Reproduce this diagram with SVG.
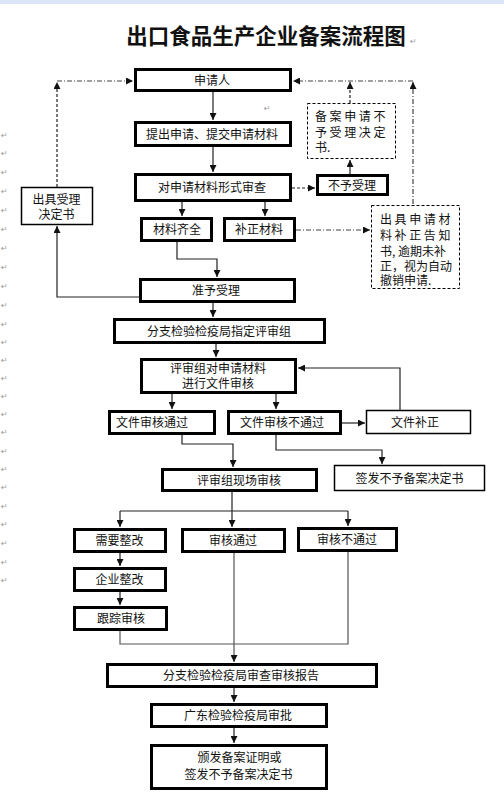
<svg xmlns="http://www.w3.org/2000/svg" width="504" height="801" viewBox="0 0 504 801">
<style>
text{font-family:"Noto Sans CJK SC","Noto Sans",sans-serif;font-size:12px;fill:#111}
.c{text-anchor:middle}
.b{fill:#fff;stroke:#000;stroke-width:3}
.t{fill:#fff;stroke:#000;stroke-width:1.5}
.d{fill:#fff;stroke:#000;stroke-width:1;stroke-dasharray:3 2}
.ln{fill:none;stroke:#222;stroke-width:1.2}
.da{fill:none;stroke:#222;stroke-width:1.2;stroke-dasharray:3 2}
.dd{fill:none;stroke:#444;stroke-width:1.2;stroke-dasharray:5 2 1 2}
.sp{letter-spacing:2.6px}
.pm{font-family:"DejaVu Sans",sans-serif;font-size:8px;fill:#999}
</style>
<defs>
<marker id="a" markerWidth="7" markerHeight="7" refX="7" refY="3.5" orient="auto" markerUnits="userSpaceOnUse">
<path d="M0,0 L7,3.5 L0,7 z" fill="#111"/>
</marker>
</defs>
<rect x="0" y="0" width="504" height="4" fill="#dbe5f6"/>
<g id="title"><text x="266" y="44" class="c" style="font-size:21.5px;font-weight:bold">出口食品生产企业备案流程图</text><text x="410" y="44" class="pm">↵</text></g>
<g id="marks">
<text x="1" y="138" class="pm">↵</text><text x="1" y="156" class="pm">↵</text><text x="1" y="175" class="pm">↵</text><text x="1" y="194" class="pm">↵</text><text x="1" y="213" class="pm">↵</text><text x="1" y="232" class="pm">↵</text><text x="1" y="251" class="pm">↵</text><text x="1" y="270" class="pm">↵</text><text x="1" y="289" class="pm">↵</text><text x="1" y="308" class="pm">↵</text><text x="1" y="327" class="pm">↵</text><text x="1" y="345" class="pm">↵</text><text x="1" y="363" class="pm">↵</text><text x="1" y="381" class="pm">↵</text><text x="1" y="399" class="pm">↵</text><text x="1" y="417" class="pm">↵</text><text x="1" y="435" class="pm">↵</text><text x="1" y="454" class="pm">↵</text><text x="1" y="472" class="pm">↵</text><text x="1" y="490" class="pm">↵</text><text x="1" y="509" class="pm">↵</text><text x="1" y="527" class="pm">↵</text><text x="1" y="546" class="pm">↵</text><text x="1" y="565" class="pm">↵</text><text x="1" y="583" class="pm">↵</text>
<text x="264" y="111" class="pm">↵</text>
</g>
<g id="connectors">
<line class="ln" x1="213" y1="92" x2="213" y2="120" marker-end="url(#a)"/>
<line class="ln" x1="213" y1="147" x2="213" y2="172" marker-end="url(#a)"/>
<line class="da" x1="292" y1="188" x2="315" y2="188" marker-end="url(#a)"/>
<line class="ln" x1="350" y1="174" x2="350" y2="160" marker-end="url(#a)"/>
<line class="da" x1="350" y1="103" x2="350" y2="82" marker-end="url(#a)"/>
<line class="dd" x1="413" y1="204" x2="413" y2="82" marker-end="url(#a)"/>
<line class="dd" x1="413" y1="81" x2="293" y2="81" marker-end="url(#a)"/>
<line class="da" x1="57" y1="187" x2="57" y2="82" marker-end="url(#a)"/>
<line class="dd" x1="57" y1="81" x2="133" y2="81" marker-end="url(#a)"/>
<line class="ln" x1="182" y1="202" x2="182" y2="216" marker-end="url(#a)"/>
<line class="ln" x1="265" y1="202" x2="265" y2="216" marker-end="url(#a)"/>
<line class="dd" x1="296" y1="230" x2="370" y2="230" marker-end="url(#a)"/>
<polyline class="ln" points="177,242 177,259 217,259 217,277" marker-end="url(#a)"/>
<polyline class="ln" points="139,297 57,297 57,226" marker-end="url(#a)"/>
<line class="ln" x1="213" y1="303" x2="213" y2="317" marker-end="url(#a)"/>
<line class="ln" x1="216" y1="344" x2="216" y2="357" marker-end="url(#a)"/>
<line class="ln" x1="172" y1="394" x2="172" y2="409" marker-end="url(#a)"/>
<line class="ln" x1="276" y1="394" x2="276" y2="409" marker-end="url(#a)"/>
<line class="ln" x1="342" y1="423" x2="365" y2="423" marker-end="url(#a)"/>
<polyline class="ln" points="400,410 400,368 298,368" marker-end="url(#a)"/>
<polyline class="ln" points="182,435 182,444 233,444 233,467" marker-end="url(#a)"/>
<polyline class="ln" points="276,435 276,450 382,450 382,464" marker-end="url(#a)"/>
<line class="ln" x1="232" y1="492" x2="232" y2="511"/>
<line class="ln" x1="120" y1="511" x2="348" y2="511"/>
<line class="ln" x1="120" y1="511" x2="120" y2="527" marker-end="url(#a)"/>
<line class="ln" x1="232" y1="511" x2="232" y2="527" marker-end="url(#a)"/>
<line class="ln" x1="348" y1="511" x2="348" y2="526" marker-end="url(#a)"/>
<line class="ln" x1="120" y1="553" x2="120" y2="566" marker-end="url(#a)"/>
<line class="ln" x1="120" y1="592" x2="120" y2="605" marker-end="url(#a)"/>
<polyline class="ln" points="120,631 120,644 348,644 348,552" style="stroke:#555"/>
<line class="ln" x1="234" y1="553" x2="234" y2="662" marker-end="url(#a)" style="stroke:#555"/>
<line class="ln" x1="234" y1="688" x2="234" y2="702" marker-end="url(#a)"/>
<line class="ln" x1="234" y1="728" x2="234" y2="743" marker-end="url(#a)"/>
</g>
<g id="n1"><rect class="b" x="135.5" y="69.5" width="155" height="21"/><text x="212" y="85" class="c">申请人</text></g>
<g id="n2"><rect class="b" x="135.5" y="122.5" width="155" height="23"/><text x="212" y="138.5" class="c">提出申请、提交申请材料</text></g>
<g id="n3"><rect class="b" x="135.5" y="174.5" width="155" height="26"/><text x="212" y="192" class="c">对申请材料形式审查</text></g>
<g id="n4"><rect class="b" x="317.5" y="175.5" width="70" height="19"/><text x="352" y="189.5" class="c">不予受理</text></g>
<g id="n5"><rect class="d" x="307.5" y="103.5" width="88" height="55"/><text x="315" y="120.5" class="sp">备案申请不</text><text x="315" y="136.5" class="sp">予受理决定</text><text x="315" y="151.5">书.</text></g>
<g id="n6"><rect class="t" x="21.5" y="187.5" width="71" height="37"/><text x="56.5" y="203.5" class="c">出具受理</text><text x="56.5" y="218.5" class="c">决定书</text></g>
<g id="n7"><rect class="b" x="141.5" y="218.5" width="70" height="22"/><text x="177" y="234" class="c">材料齐全</text></g>
<g id="n8"><rect class="b" x="224.5" y="218.5" width="70" height="22"/><text x="259" y="234" class="c">补正材料</text></g>
<g id="n9"><rect class="d" x="371.5" y="205.5" width="88" height="83"/><text x="380" y="223.5" class="sp">出具申请材</text><text x="380" y="239.5" class="sp">料补正告知</text><text x="380" y="255.5">书, 逾期未补</text><text x="380" y="270.5">正，视为自动</text><text x="380" y="284.5">撤销申请.</text></g>
<g id="n10"><rect class="b" x="140.5" y="279.5" width="154" height="22"/><text x="216" y="295" class="c">准予受理</text></g>
<g id="n11"><rect class="b" x="114.5" y="319.5" width="210" height="23"/><text x="219" y="335.5" class="c">分支检验检疫局指定评审组</text></g>
<g id="n12"><rect class="b" x="141.5" y="359.5" width="154" height="33"/><text x="218" y="372.5" class="c">评审组对申请材料</text><text x="218" y="387.5" class="c">进行文件审核</text></g>
<g id="n13"><rect class="b" x="109.5" y="411.5" width="105" height="22"/><text x="152" y="427" class="c">文件审核通过</text></g>
<g id="n14"><rect class="b" x="228.5" y="411.5" width="112" height="22"/><text x="282" y="427" class="c">文件审核不通过</text></g>
<g id="n15"><rect class="t" x="366.5" y="410.5" width="104" height="23"/><text x="415" y="426.5" class="c">文件补正</text></g>
<g id="n16"><rect class="b" x="162.5" y="469.5" width="154" height="21"/><text x="239" y="484.5" class="c">评审组现场审核</text></g>
<g id="n17"><rect class="t" x="334.5" y="465.5" width="150" height="25"/><text x="409.5" y="482.5" class="c">签发不予备案决定书</text></g>
<g id="n18"><rect class="b" x="74.5" y="529.5" width="91" height="22"/><text x="119.5" y="545" class="c">需要整改</text></g>
<g id="n19"><rect class="b" x="182.5" y="529.5" width="102" height="22"/><text x="233" y="545" class="c">审核通过</text></g>
<g id="n20"><rect class="b" x="298.5" y="528.5" width="98" height="22"/><text x="347" y="544" class="c">审核不通过</text></g>
<g id="n21"><rect class="b" x="74.5" y="568.5" width="91" height="22"/><text x="119.5" y="584" class="c">企业整改</text></g>
<g id="n22"><rect class="b" x="74.5" y="607.5" width="92" height="22"/><text x="121" y="623" class="c">跟踪审核</text></g>
<g id="n23"><rect class="b" x="107.5" y="664.5" width="269" height="22"/><text x="241" y="680" class="c">分支检验检疫局审查审核报告</text></g>
<g id="n24"><rect class="b" x="151.5" y="704.5" width="175" height="22"/><text x="238" y="720" class="c">广东检验检疫局审批</text></g>
<g id="n25"><rect class="b" x="151.5" y="745.5" width="175" height="43"/><text x="239.5" y="761.5" class="c">颁发备案证明或</text><text x="238.5" y="778.5" class="c">签发不予备案决定书</text></g>
</svg>
